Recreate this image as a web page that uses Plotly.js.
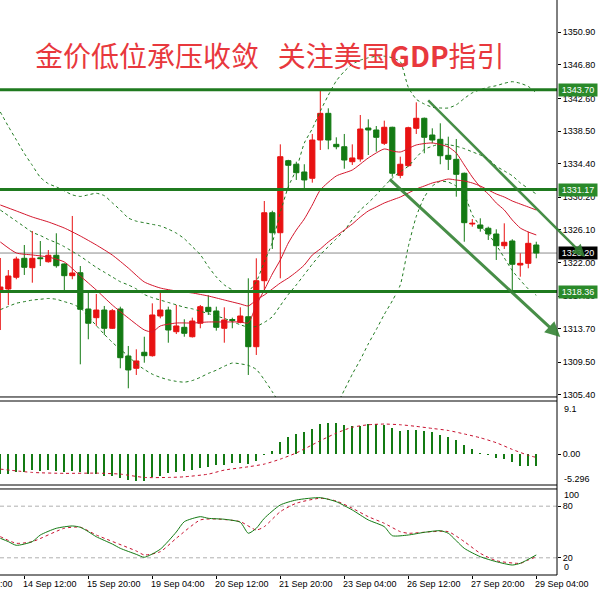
<!DOCTYPE html>
<html><head><meta charset="utf-8">
<script src="https://cdn.plot.ly/plotly-3.0.1.min.js"></script>
<style>html,body{margin:0;padding:0;background:#fff;}#chart{width:601px;height:594px;}</style>
</head><body><div id="chart"></div>
<script>
// ---- XAUUSD H4 candles (index 0..67) ----
const opens  = [1318.56,1318.69,1320.16,1322.54,1321.36,1322.60,1322.11,1322.92,1321.83,1320.36,1320.73,1316.18,1315.09,1316.05,1313.76,1316.18,1310.28,1308.74,1310.75,1310.32,1315.30,1316.05,1313.33,1313.88,1312.70,1314.39,1316.39,1315.93,1313.76,1314.86,1314.51,1315.21,1311.45,1319.73,1328.26,1325.75,1334.79,1334.34,1333.37,1332.58,1337.38,1340.73,1336.84,1336.54,1334.66,1335.00,1338.89,1338.64,1336.97,1338.98,1332.95,1334.16,1338.85,1340.11,1338.01,1337.47,1335.46,1334.96,1333.21,1326.84,1326.72,1326.31,1325.59,1324.12,1324.71,1321.70,1321.91,1324.21];
const highs  = [1322.58,1321.07,1322.74,1324.21,1325.97,1324.71,1323.58,1325.68,1321.90,1327.85,1321.57,1318.56,1318.06,1316.56,1316.18,1316.47,1311.54,1311.12,1312.70,1316.89,1318.35,1316.47,1316.68,1314.89,1315.09,1316.68,1317.90,1316.47,1316.39,1315.09,1316.39,1320.03,1322.54,1329.73,1328.51,1336.84,1334.90,1334.66,1334.34,1338.14,1343.66,1341.36,1337.72,1338.14,1336.84,1340.52,1339.98,1339.14,1339.81,1339.05,1335.29,1339.05,1342.11,1340.20,1338.85,1339.48,1337.80,1337.51,1333.30,1327.47,1327.56,1326.51,1326.18,1326.93,1324.93,1323.17,1325.88,1324.62];
const lows   = [1313.54,1316.68,1319.91,1320.45,1319.48,1321.57,1322.00,1321.36,1318.44,1319.91,1309.24,1312.38,1314.05,1312.92,1313.67,1308.74,1306.23,1307.90,1309.44,1310.20,1315.01,1311.95,1313.04,1312.70,1312.60,1313.76,1315.43,1313.46,1311.95,1313.76,1314.39,1307.90,1310.41,1318.56,1323.71,1320.03,1331.32,1332.37,1331.20,1332.03,1336.13,1336.22,1336.22,1333.78,1334.25,1334.66,1335.50,1335.92,1336.76,1332.78,1332.58,1334.03,1338.14,1335.72,1336.97,1334.34,1333.62,1330.27,1324.62,1326.51,1325.88,1324.84,1322.33,1323.71,1318.35,1320.23,1321.29,1322.54];
const closes = [1318.94,1320.32,1322.45,1321.41,1322.54,1322.50,1322.92,1321.61,1320.36,1320.70,1316.14,1314.39,1316.05,1313.76,1315.97,1310.07,1308.53,1309.66,1310.32,1315.43,1316.05,1313.54,1314.05,1313.13,1314.67,1316.47,1315.84,1313.88,1314.80,1314.74,1315.30,1311.45,1319.73,1328.26,1325.75,1335.29,1334.21,1333.28,1332.37,1337.38,1340.73,1337.38,1336.54,1334.87,1335.13,1338.76,1338.64,1337.72,1338.98,1333.21,1334.34,1338.93,1340.11,1337.72,1337.38,1335.41,1334.96,1333.08,1327.01,1326.93,1326.31,1325.59,1324.12,1324.55,1321.79,1321.91,1324.42,1323.20];

// ---- Bollinger bands (per candle) ----
const bbUpper = [1340.9,1339.1,1337.4,1335.7,1334.2,1332.7,1331.9,1331.5,1331.0,1330.5,1330.3,1330.5,1330.7,1330.4,1329.5,1328.6,1327.6,1327.2,1327.0,1326.8,1326.6,1326.2,1325.7,1325.0,1324.0,1323.0,1321.5,1320.2,1319.2,1318.6,1318.3,1318.4,1319.6,1322.1,1324.5,1328.3,1331.5,1333.7,1337.0,1338.8,1341.0,1343.0,1344.8,1346.0,1346.9,1347.4,1347.7,1347.9,1347.9,1347.7,1347.2,1344.0,1342.5,1341.9,1341.5,1341.4,1341.4,1341.8,1342.6,1343.3,1343.7,1344.0,1344.2,1344.5,1344.7,1344.5,1344.1,1343.3];
const bbMid   = [1328.6,1327.9,1327.2,1326.5,1325.8,1325.4,1324.9,1324.5,1324.0,1323.4,1322.8,1322.1,1321.4,1320.8,1320.2,1319.6,1319.2,1318.7,1318.0,1317.6,1317.3,1317.0,1316.7,1316.4,1316.2,1315.9,1315.6,1315.3,1315.0,1314.6,1314.2,1313.9,1314.0,1314.5,1315.2,1316.6,1318.0,1319.2,1320.5,1321.8,1323.0,1324.0,1325.0,1326.0,1327.4,1328.6,1329.5,1330.5,1331.6,1332.6,1333.4,1334.1,1335.2,1336.2,1336.6,1336.9,1336.8,1336.6,1336.3,1335.9,1335.5,1335.0,1334.1,1333.5,1332.9,1332.0,1331.3,1330.6];
const bbLower = [1316.1,1316.5,1316.9,1317.1,1317.3,1317.4,1317.5,1317.4,1317.1,1316.8,1316.3,1315.2,1314.1,1313.0,1312.0,1311.1,1310.3,1309.3,1308.6,1308.0,1307.6,1307.3,1307.1,1307.0,1307.2,1307.6,1308.1,1308.5,1309.0,1309.4,1309.3,1309.1,1308.6,1307.3,1305.8,1304.2,1303.0,1302.0,1301.5,1301.1,1301.2,1302.0,1304.0,1306.0,1308.0,1309.8,1311.8,1313.6,1315.5,1317.2,1319.2,1324.0,1327.8,1330.2,1331.6,1332.2,1332.1,1331.6,1330.6,1328.0,1326.6,1325.6,1324.2,1322.6,1321.0,1319.8,1318.7,1317.9];

// ---- moving averages (sampled points) ----
const maSlowX = [0,2,4,6,8,10,12,14,16,18,20,22,24,26,28,30,31,32,33,34,35,36,37,38,39,40,41,42,43,44,45,46,47,48,49,50,51,52,53,54,55,56,57,58,59,60,61,62,63,64,65,66,67];
const maSlowY = [1329.23,1328.48,1327.72,1327.10,1326.34,1325.34,1324.21,1322.95,1321.32,1319.57,1318.81,1318.44,1318.19,1317.81,1317.31,1316.81,1316.56,1317.31,1317.94,1318.69,1319.44,1320.07,1320.82,1321.70,1322.95,1323.71,1324.59,1325.34,1326.09,1326.84,1327.72,1328.48,1328.98,1329.48,1329.86,1330.23,1330.73,1331.24,1331.61,1331.99,1332.24,1332.49,1332.36,1332.24,1331.99,1331.61,1331.11,1330.61,1330.23,1329.73,1329.35,1328.98,1328.60];
const maFastX = [0,2,4,6,8,10,12,14,16,18,19,20,22,24,26,28,30,31,32,33,34,35,36,37,38,39,40,42,44,46,48,49,50,52,54,56,57,58,59,60,61,62,63,64,65,66,67];
const maFastY = [1324.59,1323.21,1322.96,1322.70,1322.08,1320.32,1318.56,1316.68,1315.05,1313.55,1313.30,1314.05,1314.42,1314.42,1314.55,1314.55,1314.55,1314.42,1316.68,1318.56,1320.57,1322.33,1324.46,1326.09,1327.47,1329.23,1331.11,1332.87,1333.62,1335.13,1336.26,1336.00,1335.88,1336.76,1337.01,1336.51,1335.75,1334.25,1332.74,1331.49,1330.61,1329.48,1328.60,1327.35,1326.34,1325.84,1325.47];

// ---- MACD ----
const macdHist = [-3.43,-3.43,-3.03,-3.03,-2.74,-2.86,-2.74,-2.86,-3.0,-2.86,-3.0,-3.43,-3.43,-3.72,-3.72,-4.17,-4.4,-4.57,-4.57,-4.0,-3.72,-3.31,-3.14,-2.86,-2.74,-2.4,-2.17,-1.89,-1.89,-1.6,-1.6,-1.71,-1.14,-0.2,0.57,2.0,2.86,3.43,3.83,4.29,5.15,5.32,5.32,5.03,4.86,4.86,5.15,5.15,4.97,4.4,4.0,4.1,4.15,4.0,3.72,3.26,2.97,2.46,1.54,0.86,0.11,-0.1,-0.69,-0.86,-1.43,-2.0,-2.0,-2.11];
const macdSigX = [0,4,8,12,15,18,21,23,26,28,31,33,35,37,40,42,44,46,48,50,52,54,56,58,60,62,64,66,67];
const macdSigY = [-2.57,-3.14,-3.3,-3.26,-3.43,-4.0,-4.0,-3.89,-3.43,-2.74,-2.17,-1.71,-0.86,0.2,2.3,3.6,4.6,5.03,5.15,5.03,4.75,4.4,4.05,3.45,2.8,1.95,0.8,-0.2,-0.57];

// ---- Stochastic ----
const stochMainX = [0,1,2,4,5,7,9,10,11,12,14,15,17,18,20,22,23,25,26,28,30,31,32,33,35,37,40,42,44,46,48,49,51,53,55,56,58,60,62,64,65,67];
const stochMainY = [42.7,38.8,34.5,38.8,46.5,54.3,57,55.5,50.4,44.5,36,31,24,20.6,30,50,62,67.8,65.9,64.8,61.3,48.5,54.3,65.9,81.4,87.2,89.9,85.2,75.6,64,56.2,45.7,46.5,49.6,51.5,48.5,31,21.3,15.5,11.6,13.6,23.3];
const stochSigX = [0,2,4,8,10,12,17,18,20,22,25,27,30,32,33,35,37,40,42,44,46,48,50,51,54,56,58,60,62,65,66,67];
const stochSigY = [44.6,36.9,38.8,54.3,55.5,46.5,27.9,23.3,27.1,42.7,64,65.1,62,52.3,56.2,73.6,83.4,89.2,86,77.6,67.8,60.1,50.4,48.5,50.4,50.4,38.8,25.2,16.6,13.6,17.4,21.3];
const stochLevels = [80, 20];

// ---- levels, ticks, labels ----
const levels = [1343.70, 1331.17, 1318.36];
const lastPrice = 1323.20;
const priceTicks = [1350.90,1346.80,1342.60,1338.50,1334.40,1330.20,1326.10,1322.00,1317.80,1313.70,1309.50,1305.40];
const timeLabels = ['13 Sep 04:00','14 Sep 12:00','15 Sep 20:00','19 Sep 04:00','20 Sep 12:00','21 Sep 20:00','23 Sep 04:00','26 Sep 12:00','27 Sep 20:00','29 Sep 04:00'];
const timeLabelIdx = [-5,3,11,19,27,35,43,51,59,67];
// trend lines: [tailIndex, tailPrice, tipIndex, tipPrice]
const trendLines = [[48.5,1332.62,70.0,1312.67],[53.3,1342.53,73.1,1322.70]];
const titleText = '金价低位承压收敛\u00a0\u00a0\u00a0关注美国<b>GDP</b>指引';

const idx = closes.map((_, i) => i);
const xr = [-0.04, 69.59];
const priceRange = [1305.14, 1354.95];
const macdRange = [-5.296, 9.1];
const RED = '#e81212', GREEN = '#137a13', LINEGREEN = '#1f7a1f', MARED = '#d4162c';
const tickFont = {family: 'Liberation Sans, Arial, sans-serif', size: 9, color: '#000'};
const kToPaper = k => (k - xr[0]) / (xr[1] - xr[0]);

const dom1 = [0.3096, 1], dom2 = [0.1565, 0.3026], dom3 = [0, 0.1496];

const traces = [
  {type: 'candlestick', x: idx, open: opens, high: highs, low: lows, close: closes,
   increasing: {line: {color: RED, width: 1}, fillcolor: RED},
   decreasing: {line: {color: GREEN, width: 1}, fillcolor: GREEN},
   whiskerwidth: 0, xaxis: 'x', yaxis: 'y', hoverinfo: 'skip'},
  {type: 'scatter', mode: 'lines', x: idx, y: bbUpper, line: {color: LINEGREEN, width: 1, dash: '3px,3px', shape: 'spline', smoothing: 0.6}, yaxis: 'y'},
  {type: 'scatter', mode: 'lines', x: idx, y: bbMid, line: {color: LINEGREEN, width: 1, dash: '3px,3px', shape: 'spline', smoothing: 0.6}, yaxis: 'y'},
  {type: 'scatter', mode: 'lines', x: idx, y: bbLower, line: {color: LINEGREEN, width: 1, dash: '3px,3px', shape: 'spline', smoothing: 0.6}, yaxis: 'y'},
  {type: 'scatter', mode: 'lines', x: maSlowX, y: maSlowY, line: {color: MARED, width: 1, shape: 'spline', smoothing: 0.6}, yaxis: 'y'},
  {type: 'scatter', mode: 'lines', x: maFastX, y: maFastY, line: {color: MARED, width: 1, shape: 'spline', smoothing: 0.6}, yaxis: 'y'},
  {type: 'bar', x: idx, y: macdHist, width: 0.25, marker: {color: GREEN, line: {width: 0}}, yaxis: 'y2'},
  {type: 'scatter', mode: 'lines', x: macdSigX, y: macdSigY, line: {color: '#c8102e', width: 1, dash: '3px,3px', shape: 'spline', smoothing: 0.6}, yaxis: 'y2'},
  {type: 'scatter', mode: 'lines', x: stochSigX, y: stochSigY, line: {color: '#c8102e', width: 1, dash: '3px,3px', shape: 'spline', smoothing: 0.6}, yaxis: 'y3'},
  {type: 'scatter', mode: 'lines', x: stochMainX, y: stochMainY, line: {color: '#137a13', width: 1, shape: 'spline', smoothing: 0.6}, yaxis: 'y3'}
];

const shapes = [];
levels.forEach(v => shapes.push({type: 'line', xref: 'paper', x0: 0, x1: 1, yref: 'y', y0: v, y1: v, line: {color: LINEGREEN, width: 3}, layer: 'above'}));
shapes.push({type: 'line', xref: 'paper', x0: 0, x1: 1, yref: 'y', y0: lastPrice, y1: lastPrice, line: {color: '#8c8c8c', width: 1}, layer: 'below'});
stochLevels.forEach(v => shapes.push({type: 'line', xref: 'paper', x0: 0, x1: 1, yref: 'y3', y0: v, y1: v, line: {color: '#b0b0b0', width: 1, dash: '4px,3px'}, layer: 'below'}));
[dom1[0], dom2[1], dom2[0], dom3[1], dom3[0]].forEach(p => shapes.push({type: 'line', xref: 'paper', x0: 0, x1: 1, yref: 'paper', y0: p, y1: p, line: {color: '#000', width: 1}}));
shapes.push({type: 'line', xref: 'paper', x0: 1, x1: 1, yref: 'paper', y0: 0, y1: 1, line: {color: '#000', width: 1}});

const annotations = [];
annotations.push({xref: 'paper', yref: 'paper', x: 0.4847, y: 0.9043, xanchor: 'center', yanchor: 'middle', showarrow: false,
  text: titleText, font: {family: 'Noto Sans CJK SC, sans-serif', size: 28, color: '#e8383d'}});
levels.forEach(v => annotations.push({xref: 'paper', x: 1, xanchor: 'left', xshift: 1, yref: 'y', y: v, yanchor: 'middle',
  text: v.toFixed(2), showarrow: false, bgcolor: '#2a8a2a', width: 36, height: 10, borderpad: 1, font: {family: tickFont.family, size: 9, color: '#fff'}}));
annotations.push({xref: 'paper', x: 1, xanchor: 'left', xshift: 1, yref: 'y', y: lastPrice, yanchor: 'middle',
  text: lastPrice.toFixed(2), showarrow: false, bgcolor: '#000', width: 36, height: 10, borderpad: 1, font: {family: tickFont.family, size: 9, color: '#fff'}});
timeLabels.forEach((t, i) => annotations.push({xref: 'paper', x: kToPaper(timeLabelIdx[i]), xanchor: 'left', xshift: -3,
  yref: 'paper', y: 0, yanchor: 'top', yshift: -2, text: t, showarrow: false, font: tickFont}));
annotations.push({xref: 'paper', x: 1, xanchor: 'left', xshift: 5, yref: 'y2', y: macdRange[1], yanchor: 'middle', yshift: -8, text: '9.1', showarrow: false, font: tickFont});
annotations.push({xref: 'paper', x: 1, xanchor: 'left', xshift: 5, yref: 'y2', y: macdRange[0], yanchor: 'middle', yshift: 6, text: '-5.296', showarrow: false, font: tickFont});
annotations.push({xref: 'paper', x: 1, xanchor: 'left', xshift: 5, yref: 'y3', y: 100, yanchor: 'middle', yshift: -6, text: '100', showarrow: false, font: tickFont});
annotations.push({xref: 'paper', x: 1, xanchor: 'left', xshift: 5, yref: 'y3', y: 0, yanchor: 'middle', yshift: 8, text: '0', showarrow: false, font: tickFont});
trendLines.forEach((t, i) => annotations.push({xref: 'x', yref: 'y', axref: 'x', ayref: 'y', ax: t[0], ay: t[1], x: t[2], y: t[3],
  text: '', showarrow: true, arrowhead: 2, arrowsize: 1, arrowwidth: i === 0 ? 3 : 2.5, arrowcolor: 'rgba(52,130,52,0.9)'}));

const yBase = {side: 'right', showline: false, showgrid: false, zeroline: false, ticks: 'outside', ticklen: 3, tickcolor: '#000',
  tickfont: tickFont, anchor: 'x', fixedrange: true};

const layout = {
  width: 601, height: 594, margin: {l: 0, r: 44, t: 0, b: 19},
  paper_bgcolor: '#fff', plot_bgcolor: '#fff', showlegend: false, hovermode: false,
  boxgap: 0.35, boxgroupgap: 0, bargap: 0,
  xaxis: {range: xr, anchor: 'y3', showgrid: false, zeroline: false, showline: false, rangeslider: {visible: false},
    tickvals: timeLabelIdx, ticks: 'outside', ticklen: 3, tickcolor: '#000', showticklabels: false, fixedrange: true},
  yaxis: Object.assign({}, yBase, {domain: dom1, range: priceRange, tickvals: priceTicks, ticktext: priceTicks.map(v => v.toFixed(2))}),
  yaxis2: Object.assign({}, yBase, {domain: dom2, range: macdRange, tickvals: [0], ticktext: ['0.00']}),
  yaxis3: Object.assign({}, yBase, {domain: dom3, range: [0, 100], tickvals: stochLevels, ticktext: stochLevels.map(String)}),
  shapes: shapes, annotations: annotations
};

Plotly.newPlot('chart', traces, layout, {staticPlot: true, displayModeBar: false});
</script>
</body></html>
